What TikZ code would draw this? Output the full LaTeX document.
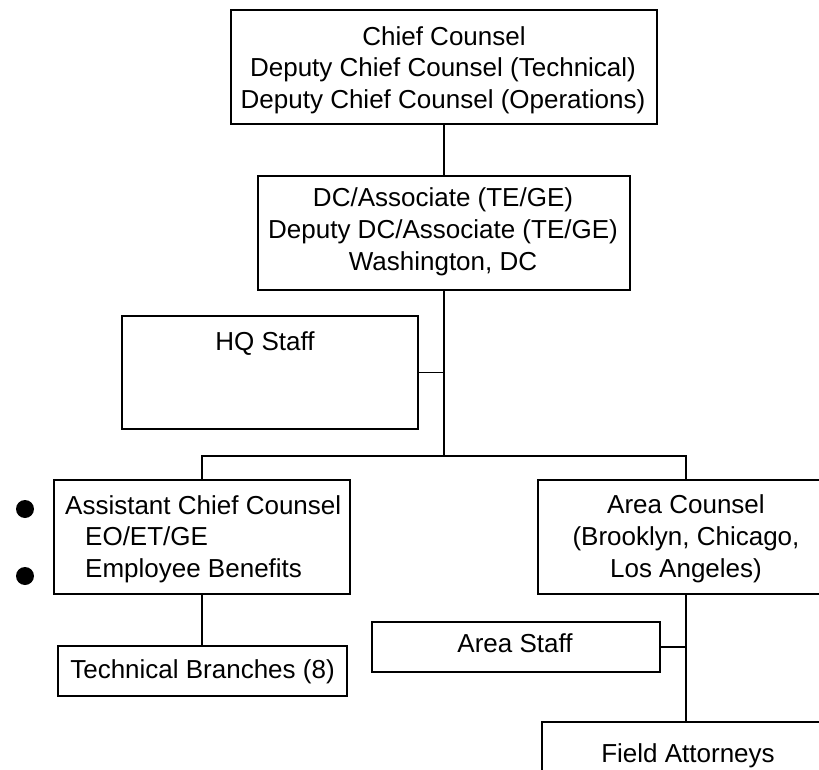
\documentclass[tikz,border=0pt]{standalone}
\usepackage{fontspec}
\setmainfont{Liberation Sans}
\begin{document}
\begin{tikzpicture}[x=1pt,y=-1pt,
  box/.style={draw, line width=1.8pt, inner sep=0pt, anchor=center},
  txt/.style={inner sep=0pt, anchor=base, font=\fontsize{26}{31}\selectfont},
  ltxt/.style={inner sep=0pt, anchor=base west, font=\fontsize{26}{31}\selectfont},
  conn/.style={line width=1.8pt},
  bul/.style={circle, fill=black, inner sep=0pt, minimum size=18pt}]
\useasboundingbox (0,0) rectangle (819,770);
\clip (0,0) rectangle (819,770);
% boxes
\node[box, minimum width=426pt, minimum height=114pt] (b1) at (444,67) {};
\node[box, minimum width=372pt, minimum height=114pt] (b2) at (444,233) {};
\node[box, minimum width=296pt, minimum height=113pt] (hq) at (269.7,372.5) {};
\node[box, minimum width=296pt, minimum height=114pt] (acc) at (202,537) {};
\node[box, minimum width=296pt, minimum height=114pt] (area) at (686,537) {};
\node[box, minimum width=289pt, minimum height=50pt] (tech) at (202.3,671) {};
\node[box, minimum width=288pt, minimum height=50pt] (astaff) at (516,647) {};
\node[box, minimum width=288pt, minimum height=100pt] (field) at (686,772) {};
% texts
\node[txt] (t1a) at (444,45.5) {Chief Counsel};
\node[txt] (t1b) at (443,77) {Deputy Chief Counsel (Technical)};
\node[txt] (t1c) at (443,108.5) {Deputy Chief Counsel (Operations)};
\node[txt] (t2a) at (443,207) {DC/Associate (TE/GE)};
\node[txt] (t2b) at (443,239) {Deputy DC/Associate (TE/GE)};
\node[txt] (t2c) at (443,270) {Washington, DC};
\node[txt] (thq) at (265,350) {HQ Staff};
\node[ltxt] (tla) at (65,514) {Assistant Chief Counsel};
\node[ltxt] (tlb) at (85,545) {EO/ET/GE};
\node[ltxt] (tlc) at (85,577) {Employee Benefits};
\node[txt] (tra) at (686,513) {Area Counsel};
\node[txt] (trb) at (686,545) {(Brooklyn, Chicago,};
\node[txt] (trc) at (686,577) {Los Angeles)};
\node[txt] (ttech) at (202.5,678) {Technical Branches (8)};
\node[txt] (tas) at (515,652) {Area Staff};
\node[txt] (tfa) at (688,762) {Field Attorneys};
% bullets
\node[bul] (bu1) at (25,509) {};
\node[bul] (bu2) at (25,576) {};
% connectors
\coordinate (bus) at (444,456);
\draw[conn] (b1.south) -- (b2.north);
\draw[conn] (b2.south) -- (bus);
\draw[conn] (hq.east) -- (hq.east -| bus);
\draw[conn] (acc.north) -- (acc.north |- bus) -- (area.north |- bus) -- (area.north);
\draw[conn] (acc.south) -- (tech.north -| acc.south);
\draw[conn] (area.south) -- (field.north);
\draw[conn] (astaff.east) -- (astaff.east -| area.south);
\end{tikzpicture}
\end{document}
